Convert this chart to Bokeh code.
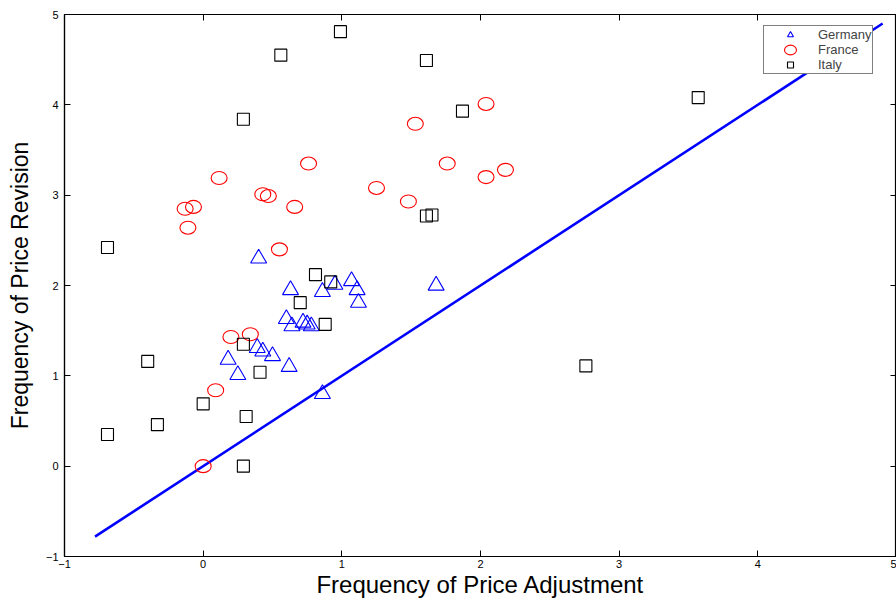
from bokeh.plotting import figure
from bokeh.models import Range1d, LinearAxis, FixedTicker, Legend, LegendItem
from bokeh.embed import file_html
from bokeh.resources import INLINE

# Germany (triangles)
germany_x = [0.40, 0.63, 0.86, 0.95, 1.07, 1.11, 1.12, 1.68, 0.60, 0.64, 0.72, 0.75,
             0.78, 0.39, 0.43, 0.50, 0.18, 0.25, 0.62, 0.86]
germany_y = [2.30, 1.95, 1.93, 2.01, 2.05, 1.95, 1.81, 2.00, 1.63, 1.55, 1.59, 1.57,
             1.55, 1.31, 1.27, 1.22, 1.18, 1.01, 1.10, 0.80]

# France (circles)
france_x = [0.115, 0.43, 0.47, -0.13, -0.07, -0.11, 0.66, 0.55, 0.76, 1.53, 2.04,
            1.76, 1.25, 1.48, 2.04, 2.18, 0.20, 0.34, 0.09, 0.00]
france_y = [3.19, 3.01, 2.99, 2.85, 2.87, 2.64, 2.87, 2.40, 3.35, 3.79, 4.01,
            3.35, 3.08, 2.93, 3.20, 3.28, 1.43, 1.46, 0.84, 0.00]

# Italy (squares)
italy_x = [-0.69, 0.56, 0.29, 0.99, 1.61, 1.87, 1.61, 1.65, 3.57, 0.81, 0.92, 0.70,
           0.88, 0.29, 0.41, -0.40, 0.00, -0.33, -0.69, 0.31, 0.29, 2.76]
italy_y = [2.42, 4.55, 3.84, 4.81, 4.49, 3.93, 2.77, 2.78, 4.08, 2.12, 2.04, 1.81,
           1.57, 1.35, 1.04, 1.16, 0.69, 0.46, 0.35, 0.55, 0.00, 1.11]

# 45-degree line
line_x = [-0.78, 4.90]
line_y = [-0.78, 4.90]

ticks = [-1, 0, 1, 2, 3, 4, 5]
tick_overrides = {-1: "\u22121"}

p = figure(width=896, height=600, output_backend="svg", toolbar_location=None,
           x_range=Range1d(-1, 5), y_range=Range1d(-1, 5),
           min_border_left=64, min_border_right=0, min_border_top=14,
           min_border_bottom=40, x_axis_location=None, y_axis_location=None)
p.grid.visible = False
p.outline_line_color = "black"
p.outline_line_width = 1.2
p.background_fill_color = "white"
p.border_fill_color = "white"

FONT = "Liberation Sans"


def style_axis(ax, labels=True):
    ax.ticker = FixedTicker(ticks=ticks)
    ax.minor_tick_line_color = None
    ax.major_tick_in = 6
    ax.major_tick_out = 0
    ax.major_tick_line_color = "black"
    ax.axis_line_color = "black"
    ax.axis_line_width = 1.2
    if labels:
        ax.major_label_overrides = tick_overrides
        ax.major_label_text_font = FONT
        ax.major_label_text_font_size = "11px"
        ax.major_label_text_color = "black"
        ax.major_label_standoff = 3
    else:
        ax.major_label_text_font_size = "0px"
        ax.major_label_standoff = 0
        ax.major_label_text_alpha = 0


xb = LinearAxis(axis_label="Frequency of Price Adjustment")
style_axis(xb)
xb.axis_label_text_font = FONT
xb.axis_label_text_font_size = "24px"
xb.axis_label_text_font_style = "normal"
xb.axis_label_text_color = "black"
xb.axis_label_standoff = 0
p.add_layout(xb, "below")

yl = LinearAxis(axis_label="Frequency of Price Revision")
style_axis(yl)
yl.major_label_standoff = 6
yl.axis_label_text_font = FONT
yl.axis_label_text_font_size = "23px"
yl.axis_label_text_font_style = "normal"
yl.axis_label_text_color = "black"
yl.axis_label_standoff = 10
p.add_layout(yl, "left")

xt = LinearAxis()
style_axis(xt, labels=False)
p.add_layout(xt, "above")

yr = LinearAxis()
style_axis(yr, labels=False)
p.add_layout(yr, "right")

rl = p.line(line_x, line_y, line_color="#0000ff", line_width=2.6)

rg = p.scatter(germany_x, germany_y, marker="triangle", size=16,
               fill_color=None, line_color="#0000ff", line_width=1.1)
rf = p.ellipse(france_x, france_y, width=16, height=13, width_units="screen",
               height_units="screen", fill_color=None, line_color="#ff0000",
               line_width=1.1)
ri = p.scatter(italy_x, italy_y, marker="square", size=12,
               fill_color=None, line_color="black", line_width=1.1)

legend = Legend(items=[LegendItem(label="Germany", renderers=[rg]),
                       LegendItem(label="France", renderers=[rf]),
                       LegendItem(label="Italy", renderers=[ri])],
                location=(699, 482))
legend.label_text_font = FONT
legend.label_text_font_size = "13px"
legend.label_height = 13
legend.glyph_height = 15
legend.glyph_width = 50
legend.spacing = 0
legend.padding = 1
legend.margin = 0
legend.label_standoff = 3
legend.border_line_color = "black"
legend.border_line_width = 1.2
legend.background_fill_alpha = 1
p.add_layout(legend)

open("out.html", "w").write(file_html(p, INLINE))
